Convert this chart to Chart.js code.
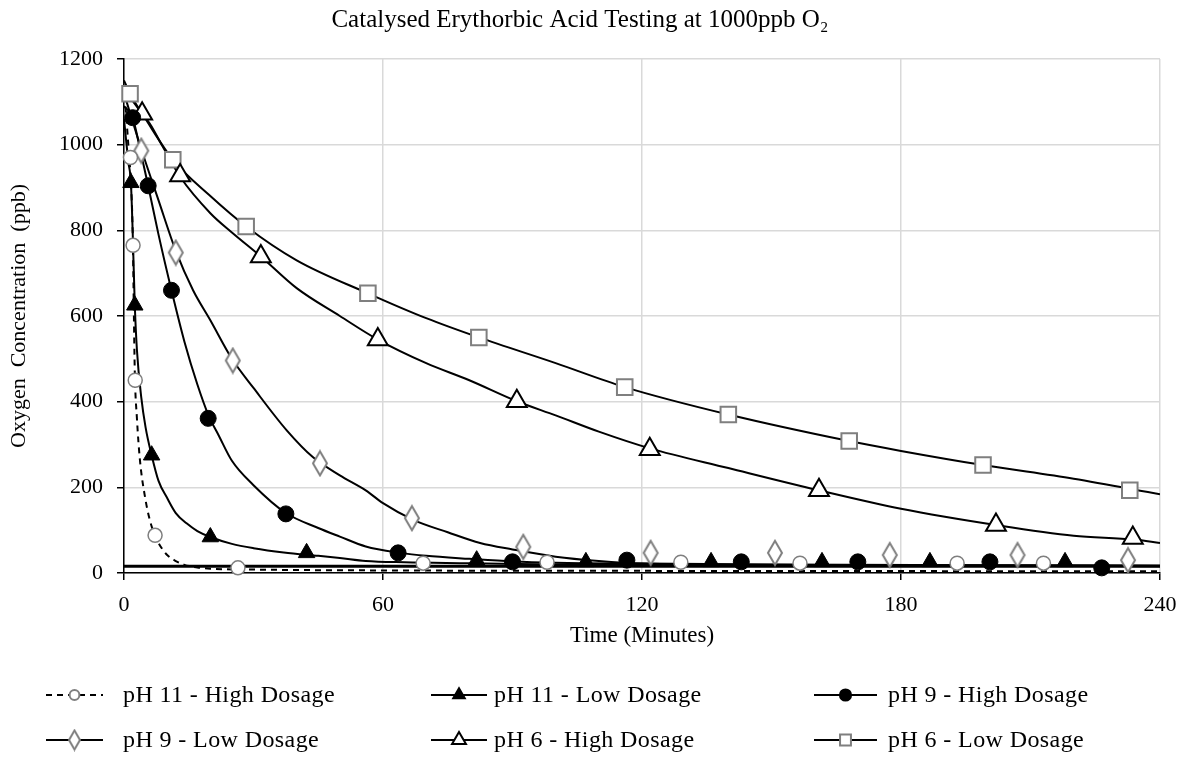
<!DOCTYPE html>
<html>
<head>
<meta charset="utf-8">
<script src="https://cdn.jsdelivr.net/npm/chart.js@4"></script>
<style>
  html, body { margin: 0; padding: 0; background: #fff; }
</style>
</head>
<body>
<canvas id="chart" width="1192" height="765"></canvas>
<script>
// Labels
const chartTitle = 'Catalysed Erythorbic Acid Testing at 1000ppb O\u2082';
const xTitle = 'Time (Minutes)';
const yTitle = 'Oxygen  Concentration  (ppb)';
const seriesNames = [
  'pH 11 - High Dosage', 'pH 11 - Low Dosage', 'pH 9 - High Dosage',
  'pH 9 - Low Dosage', 'pH 6 - High Dosage', 'pH 6 - Low Dosage'
];

// Curves [minutes, ppb]
const ph11HighLine = [[0,1140],[1,1000],[1.5,930],[2,800],[2.5,470],[3,360],[3.7,263],[5,170],[6,123],[7,92],[8,70],[10,42],[12,28],[14,19],[17,13],[20,10],[30,8],[60,6],[120,5],[240,4]];
const ph11LowLine  = [[0,1060],[1,960],[1.6,911],[2,800],[2.5,625],[3,520],[4,410],[5,340],[6.4,275],[8,215],[10,175],[12,140],[14.5,116],[17,98],[20,84],[25,68],[30,58],[37,48],[45,40],[50,35],[56,28],[65,25],[80,23],[100,20],[150,18],[240,17]];
const ph9HighLine  = [[0,1090],[2,1063],[3.5,1000],[5.6,904],[8,790],[11,660],[14,540],[17,440],[19.5,370],[22,320],[25,262],[30,205],[37.5,140],[45,105],[50,85],[56,62],[64,47],[70,40],[80,33],[90,27],[100,24],[120,22],[150,20],[200,18],[240,17]];
const ph9LowLine   = [[0,1120],[4,990],[8,870],[12,752],[16,660],[20,590],[25,500],[30,432],[37.7,333],[43.8,270],[50,228],[56,193],[60,163],[67,124],[75,95],[82.5,70],[90,55],[100,38],[110,28],[120,22],[150,19],[200,17],[240,16]];
const ph6HighLine  = [[0,1130],[4,1075],[6,1049],[9,995],[13,925],[20,840],[25,795],[31.7,739],[40,665],[50,600],[58.8,545],[70,490],[80,450],[91,401],[100,368],[110,330],[121.8,291],[140,245],[161,193],[180,150],[202,112],[220,87],[234,78],[240,70]];
const ph6LowLine   = [[0,1150],[1.4,1119],[5,1060],[11.3,965],[20,880],[28.3,809],[40,730],[56.5,653],[70,595],[82.2,550],[100,490],[116,434],[140,370],[168,308],[180,285],[199,252],[220,220],[240,184]];
const baseLine     = [[0,16],[240,16]];

// Markers [minutes, ppb]
const ph11HighPts = [[1.5,970],[2.1,765],[2.6,450],[7.2,88],[26.4,12],[69.3,23],[98,25],[129,25],[156.6,23],[193,23],[213,23]];
const ph11LowPts  = [[1.6,911],[2.5,625],[6.4,275],[20,84],[42.3,47],[81.7,30],[107,26],[136,26],[161.7,26],[186.7,26],[218,26]];
const ph9HighPts  = [[2,1063],[5.6,904],[11,660],[19.5,361],[37.5,138],[63.5,47],[90,26],[116.5,30],[143,26],[170,26],[200.6,26],[226.5,12]];
const ph9LowPts   = [[4,986],[12,748],[25.2,496],[45.4,256],[66.7,128],[92.5,61],[122,47],[150.8,47],[177.4,42],[207,42],[232.6,30]];
const ph6HighPts  = [[4.2,1072],[13,928],[31.7,739],[58.8,545],[91,401],[121.8,289],[161,193],[202,112],[233.7,82]];
const ph6LowPts   = [[1.4,1119],[11.3,965],[28.3,809],[56.5,653],[82.2,550],[116,434],[140,370],[168,308],[199,252],[233,193]];

const FONT = '"Liberation Serif", "Times New Roman", serif';
const GREY = '#7f7f7f';
const toXY = arr => arr.map(([x, y]) => ({ x, y }));

// tall open diamond used for pH 9 low
function makeDiamond(w, h) {
  const c = document.createElement('canvas');
  c.width = w + 4; c.height = h + 4;
  const g = c.getContext('2d');
  g.fillStyle = '#fff'; g.strokeStyle = GREY; g.lineWidth = 2;
  g.beginPath();
  g.moveTo(c.width / 2, 2); g.lineTo(c.width - 2, c.height / 2);
  g.lineTo(c.width / 2, c.height - 2); g.lineTo(2, c.height / 2);
  g.closePath(); g.fill(); g.stroke();
  return c;
}
const diamond = makeDiamond(14, 24);
const diamondSmall = makeDiamond(11, 19);

// marker looks per series
const looks = [
  { style: 'circle',   radius: 7,   fill: '#fff', stroke: GREY,  bw: 1.5, dash: [6, 5] },
  { style: 'triangle', radius: 9.5, fill: '#000', stroke: '#000', bw: 1 },
  { style: 'circle',   radius: 8,   fill: '#000', stroke: '#000', bw: 1 },
  { style: diamond,    radius: 8,   fill: '#fff', stroke: GREY,  bw: 1.5, legendStyle: diamondSmall },
  { style: 'triangle', radius: 11.5, fill: '#fff', stroke: '#000', bw: 2 },
  { style: 'rect',     radius: 11,  fill: '#fff', stroke: GREY,  bw: 2 }
];

const lines = [ph11HighLine, ph11LowLine, ph9HighLine, ph9LowLine, ph6HighLine, ph6LowLine];
const marks = [ph11HighPts, ph11LowPts, ph9HighPts, ph9LowPts, ph6HighPts, ph6LowPts];

const datasets = [];
lines.forEach((ln, i) => {
  datasets.push({
    label: seriesNames[i],
    data: toXY(ln),
    showLine: true,
    borderColor: '#000',
    borderWidth: 2,
    borderDash: looks[i].dash || [],
    pointRadius: 0,
    cubicInterpolationMode: 'monotone',
    order: 2
  });
});
datasets.push({
  label: 'baseline',
  data: toXY(baseLine),
  showLine: true,
  borderColor: '#000',
  borderWidth: 3,
  pointRadius: 0,
  order: 3
});
marks.forEach((pts, i) => {
  const lk = looks[i];
  datasets.push({
    label: seriesNames[i] + ' pts',
    data: toXY(pts),
    showLine: false,
    pointStyle: lk.style,
    pointRadius: lk.radius,
    pointBackgroundColor: lk.fill,
    pointBorderColor: lk.stroke,
    pointBorderWidth: lk.bw,
    clip: false,
    order: 1
  });
});

// legend under the axis: line + marker + name, three per row
const bottomLegend = {
  id: 'bottomLegend',
  afterDraw(chart) {
    const ctx = chart.ctx;
    const cols = [[46, 103, 123], [431, 487, 494], [814, 877, 888]]; // line start, line end, text x
    const rows = [695, 740];
    seriesNames.forEach((name, i) => {
      const lk = looks[i];
      const [x0, x1, tx] = cols[i % 3];
      const y = rows[Math.floor(i / 3)];
      ctx.save();
      ctx.strokeStyle = '#000';
      ctx.lineWidth = 2;
      ctx.setLineDash(lk.dash || []);
      ctx.beginPath();
      ctx.moveTo(x0, y);
      ctx.lineTo(x1, y);
      ctx.stroke();
      ctx.setLineDash([]);
      ctx.fillStyle = lk.fill;
      ctx.strokeStyle = lk.stroke;
      Chart.helpers.drawPoint(ctx, { pointStyle: lk.legendStyle || lk.style, radius: lk.radius * 0.7, borderWidth: lk.bw, rotation: 0 }, (x0 + x1) / 2, y);
      ctx.fillStyle = '#000';
      ctx.font = '24px ' + FONT;
      ctx.letterSpacing = '0.4px';
      ctx.textBaseline = 'middle';
      ctx.fillText(name, tx, y + 1);
      ctx.restore();
    });
  }
};

const tickFont = { family: FONT, size: 22 };

new Chart(document.getElementById('chart'), {
  type: 'scatter',
  data: { datasets },
  plugins: [bottomLegend],
  options: {
    responsive: false,
    animation: false,
    layout: { padding: { left: 0, right: 32, top: 0, bottom: 115 } },
    plugins: {
      legend: { display: false },
      tooltip: { enabled: false },
      title: {
        display: true,
        text: chartTitle,
        color: '#000',
        font: { family: FONT, size: 25, weight: 'normal' },
        padding: { top: 5, bottom: 24 }
      }
    },
    scales: {
      x: {
        type: 'linear',
        min: 0, max: 240,
        ticks: { stepSize: 60, color: '#000', font: tickFont, padding: 12, callback: v => String(v) },
        grid: { color: '#d9d9d9', lineWidth: 1.5, tickColor: '#000', tickLength: 7 },
        border: { color: '#000', width: 1.5 },
        title: { display: true, text: xTitle, color: '#000', font: { family: FONT, size: 23 }, padding: { top: 0, bottom: 0 } },
        afterFit(scale) { scale.height = 77; }
      },
      y: {
        min: 0, max: 1200,
        ticks: { stepSize: 200, color: '#000', font: tickFont, padding: 14, callback: v => String(v) },
        grid: { color: '#d9d9d9', lineWidth: 1.5, tickColor: '#000', tickLength: 7 },
        border: { color: '#000', width: 1.5 },
        title: { display: true, text: yTitle, color: '#000', font: { family: FONT, size: 22 }, padding: { top: 6, bottom: 0 } },
        afterFit(scale) { scale.width = 124; }
      }
    }
  }
});
</script>
</body>
</html>
